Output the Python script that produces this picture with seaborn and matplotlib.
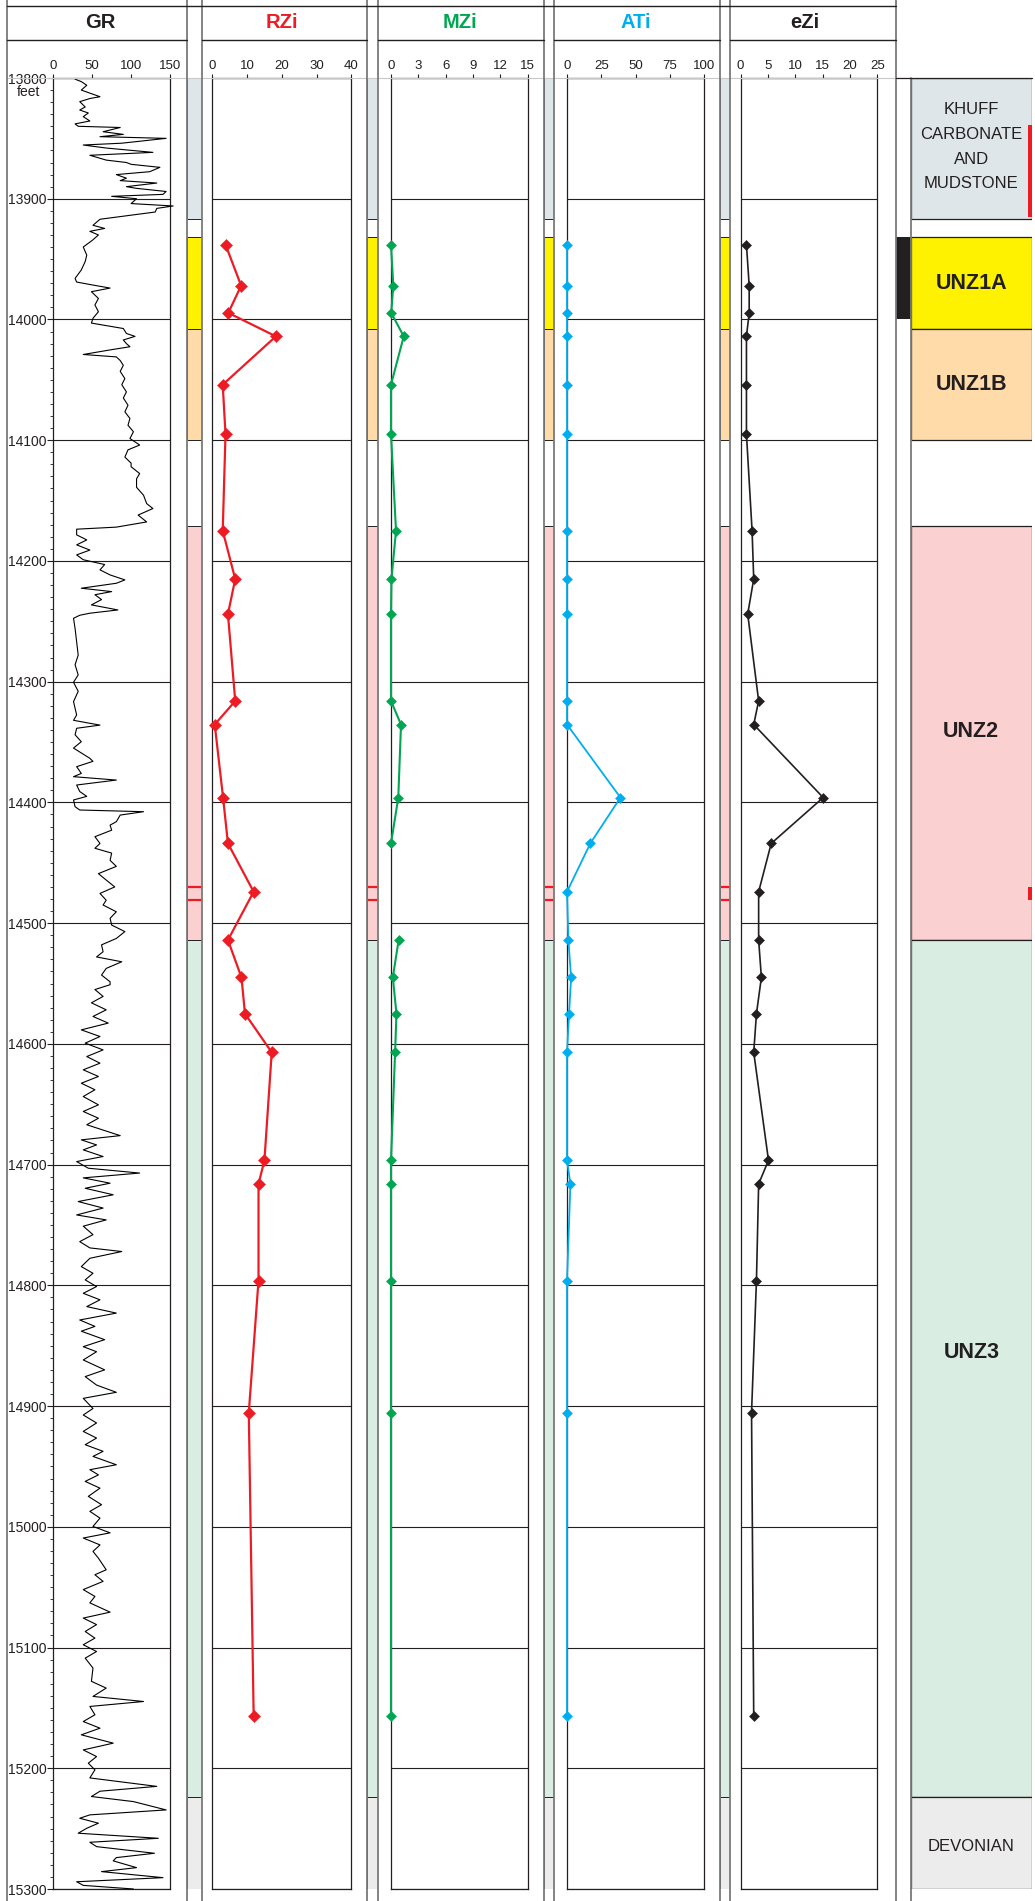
import numpy as np
import pandas as pd
import matplotlib
matplotlib.use("Agg")
import matplotlib.pyplot as plt
from matplotlib.lines import Line2D
from matplotlib.patches import Rectangle
import seaborn as sns

# ---------------------------------------------------------------- data
# Gamma-ray log (API) against depth (feet)
gr_depth = [
    13801, 13803, 13806, 13810, 13815.5, 13817, 13819.6, 13824, 13826.5, 13829,
    13832, 13835.6, 13838, 13840, 13841, 13844.5, 13846.7, 13848.6, 13850, 13854,
    13855.5, 13858, 13861.6, 13864, 13868, 13870, 13871.5, 13874, 13877.6, 13880,
    13883, 13885, 13887, 13890, 13891.4, 13894, 13896.4, 13898, 13900, 13904,
    13906, 13908, 13911, 13917, 13922, 13924.6, 13927, 13930, 13934, 13940,
    13946.7, 13952, 13959, 13966, 13969, 13971.5, 13974, 13977, 13982.6, 13988,
    13993.6, 13999, 14003, 14007.5, 14011.6, 14014, 14017, 14020, 14022.6, 14025,
    14029, 14031, 14034, 14038, 14043, 14049, 14054, 14060, 14065, 14071,
    14076.5, 14082, 14087.6, 14093, 14098.6, 14104, 14108, 14114, 14119, 14122,
    14127.6, 14132, 14139, 14145.6, 14152.5, 14156.6, 14162, 14167.7, 14172, 14173.7,
    14178.4, 14182.6, 14186.7, 14191, 14195, 14199, 14203, 14207.4, 14211.6, 14215.7,
    14218.5, 14222.6, 14225.4, 14228, 14232, 14236.4, 14240.6, 14243.3, 14245, 14247.5,
    14256, 14267, 14278, 14286, 14294.4, 14300.5, 14308, 14316.5, 14327.6, 14332,
    14336, 14338.6, 14344, 14349.7, 14355, 14363.5, 14366, 14370.4, 14376, 14378.7,
    14381.5, 14385.6, 14391, 14395, 14398, 14403.6, 14406.3, 14407.7, 14410.5, 14416,
    14418.8, 14423, 14428.4, 14434, 14438, 14442, 14448, 14453, 14459, 14464.3,
    14470, 14475.4, 14481, 14485, 14490.6, 14496, 14501.6, 14507, 14512.7, 14518,
    14523.7, 14528, 14532, 14537.5, 14543, 14548.6, 14551, 14555, 14560.7, 14566,
    14571.8, 14577.3, 14582.8, 14588.4, 14593.9, 14599.4, 14605, 14610.5, 14616, 14621.5,
    14627, 14632.6, 14638, 14643.6, 14650.5, 14656, 14661.6, 14667, 14676, 14679.5,
    14683.7, 14687.8, 14693.3, 14697.5, 14703, 14707, 14711, 14715.4, 14719.6, 14725,
    14730.6, 14736, 14741.7, 14745.8, 14751, 14758, 14763.8, 14769, 14772, 14777.6,
    14784.5, 14790, 14795.5, 14801, 14806.6, 14812, 14817.6, 14823, 14828.7, 14834,
    14838, 14845, 14850.8, 14855, 14861.8, 14870, 14875.6, 14882.6, 14888.6, 14893.6,
    14902, 14907.4, 14914, 14921, 14926.5, 14932, 14937.5, 14941.7, 14948.6, 14952.7,
    14957, 14962.4, 14968, 14974.8, 14981.7, 14987.2, 14992.8, 14999.7, 15005, 15009.3,
    15015, 15020.4, 15026, 15035.6, 15039.7, 15045.2, 15052, 15057.7, 15063, 15070.7,
    15075.6, 15081, 15086.7, 15092.2, 15097.7, 15103.3, 15108.8, 15117, 15128, 15133.6,
    15140.5, 15144.7, 15148.8, 15155.7, 15161.3, 15166.8, 15172.3, 15179.2, 15184.8, 15190.3,
    15195.8, 15201.3, 15208, 15215, 15219, 15223.4, 15227.6, 15234.5, 15238.6, 15241.4,
    15245.5, 15249.7, 15253.8, 15258, 15261.3, 15264.9, 15270.4, 15274, 15276.7, 15282.3,
    15285.6, 15290.6, 15294, 15297, 15300,
]
gr_value = [
    28, 36, 43, 36, 60, 47, 34, 41, 34, 45,
    38.5, 47, 28, 32, 86, 64, 90, 60, 145, 88,
    38.5, 68, 128, 47, 68, 94, 100, 137, 124, 81,
    94, 86, 133, 94, 107, 145, 141, 75, 107, 100,
    154, 133, 131, 60, 51, 66, 47, 58, 51, 38.5,
    43, 41, 36, 28, 30, 51, 73, 49, 58, 53.5,
    58, 51, 49, 90, 94, 105, 90, 94, 98.5, 75,
    38.5, 81, 86, 90, 86, 92, 88, 94, 90, 96,
    92, 98.5, 96, 103, 98.5, 111, 96, 92, 100, 100,
    111, 107, 107, 116, 120, 128, 109, 120, 81, 30,
    30, 43, 30, 47, 30, 38.5, 66, 60, 73, 92,
    81, 36, 75, 53.5, 62, 49, 83, 47, 34, 26,
    28, 30, 32, 28, 32, 26, 32, 26, 30, 26,
    60, 30, 28, 36, 26, 47, 51, 30, 36, 26,
    81, 30, 34, 43, 26, 28, 34, 116, 86, 81,
    73, 75, 53.5, 60, 53.5, 75, 73, 81, 58, 68,
    79, 60, 68, 64, 81, 73, 75, 92, 81, 62,
    64, 55.6, 88, 68, 62, 73, 73, 53.5, 64, 49,
    68, 51, 70.6, 36, 60, 41, 64, 43, 60, 38.5,
    58, 36, 53.5, 38.5, 58, 38.5, 58, 43, 86, 36,
    55.6, 38.5, 64, 30, 45, 111, 38.5, 73, 41, 77,
    32, 64, 30, 68, 38.5, 51, 34, 47, 88, 47,
    36, 51, 41, 55.6, 38.5, 60, 43, 81, 34, 53.5,
    36, 66, 38.5, 55.6, 38.5, 66, 41, 55.6, 81, 38.5,
    51, 38.5, 55.6, 38.5, 55.6, 41, 64, 51, 81, 47,
    58, 41, 60, 45, 62, 47, 60, 51, 73, 38.5,
    60, 51, 58, 68, 53.5, 64, 38.5, 53.5, 47, 73,
    38.5, 55.6, 41, 53.5, 38.5, 55.6, 41, 51, 49, 68,
    51, 116, 47, 53.5, 38.5, 60, 36, 77, 38.5, 55.6,
    45, 53.5, 47, 133, 60, 49, 103, 145, 47, 34,
    58, 43, 32, 135, 47, 55.6, 130, 81, 77, 107,
    62, 141, 30, 38.5, 103,
]

# Core-sample indices against depth (feet)
sample_depth = [13938, 13972, 13994.5, 14014, 14054, 14095, 14175, 14215, 14244, 14316,
                14335.5, 14396, 14434, 14474, 14514, 14545, 14575, 14607, 14696.5, 14716,
                14796, 14905.5, 15156.5]
rzi = [3.8, 8.3, 4.6, 18.3, 3.0, 3.8, 3.0, 6.6, 4.5, 6.6,
       0.7, 3.1, 4.5, 11.9, 4.5, 8.4, 9.4, 17.1, 15.0, 13.3,
       13.3, 10.5, 11.9]
mzi = [0.0, 0.25, 0.03, 1.4, 0.0, 0.0, 0.55, 0.05, 0.0, 0.0,
       1.1, 0.8, 0.0, np.nan, 0.84, 0.2, 0.6, 0.45, 0.0, 0.0,
       0.0, 0.0, 0.0]
ati = [0, 0, 0, 0, 0, 0, 0, 0, 0, 0,
       0, 39, 17, 0, 1, 3, 1.5, 0, 0, 2.5,
       0, 0, 0]
ezi = [1.07, 1.57, 1.57, 1.07, 1.07, 1.07, 2.1, 2.4, 1.3, 3.3,
       2.4, 15.1, 5.6, 3.3, 3.3, 3.8, 2.9, 2.4, 5.1, 3.3,
       2.9, 2.0, 2.4]

# Stratigraphic units
zone_top = [13800, 13932, 14008, 14171, 14514, 15224]
zone_base = [13917, 14008, 14100, 14514, 15224, 15300]
zone_name = ["KHUFF\nCARBONATE\nAND\nMUDSTONE", "UNZ1A", "UNZ1B", "UNZ2", "UNZ3", "DEVONIAN"]
zone_label_depth = [13857, 13970, 14054, 14341, 14856, 15265]
zone_bold = [False, True, True, True, True, False]
zone_color = ["#dfe6e9", "#fff200", "#fedba8", "#fbd0d1", "#d9ede2", "#ececec"]

# Highlighted intervals
core_interval = (13932, 14000)
red_intervals = [(13839, 13915), (14470, 14481)]
red_lines = [14470, 14481]

# Track titles, scales and colours
track_names = ["GR", "RZi", "MZi", "ATi", "eZi"]
track_colors = ["#231f20", "#ed1c24", "#00a651", "#00aeef", "#231f20"]
track_limits = [(0, 150), (0, 40), (0, 15), (0, 100), (0, 25)]
track_ticks = [[0, 50, 100, 150], [0, 10, 20, 30, 40], [0, 3, 6, 9, 12, 15],
               [0, 25, 50, 75, 100], [0, 5, 10, 15, 20, 25]]
depth_ticks = list(range(13800, 15301, 100))

# ---------------------------------------------------------------- figure
sns.set_style("white")
plt.rcParams["font.family"] = ["Liberation Sans", "DejaVu Sans"]

W, H, DPI = 1035, 1901, 100
fig = plt.figure(figsize=(W / DPI, H / DPI), dpi=DPI)

TOP, BOT = 78, 1889          # pixel rows of the top and base depth
DMIN, DMAX = 13800, 15300
INK = "#231f20"
FRAME = "#7a7a7a"


def fx(x):
    return x / W


def fy(y):
    return 1 - y / H


def depth_axes(x0, x1):
    ax = fig.add_axes([fx(x0), fy(BOT), (x1 - x0) / W, (BOT - TOP) / H])
    ax.set_ylim(DMAX, DMIN)
    ax.set_facecolor("none")
    return ax


def fig_line(xs, ys, **kw):
    fig.add_artist(Line2D([fx(x) for x in xs], [fy(y) for y in ys],
                          transform=fig.transFigure, **kw))


# pixel geometry of tracks
box_x = [(7, 187), (202, 367), (378, 543.7), (553.6, 719.5), (730, 896)]
plot_x = [(53.3, 170), (212.3, 351.3), (391, 527.5), (567, 704), (740.6, 877.3)]
strip_x = [(187, 202), (367, 378), (543.7, 553.6), (719.5, 730)]
title_x = [100, 282, 460, 636, 805]
litho_x = (910.6, 1032)
core_x = (896, 910.6)

# coloured unit strips between tracks
for (s0, s1) in strip_x:
    sax = depth_axes(s0, s1)
    sax.set_xlim(0, 1)
    sax.axis("off")
    for t, b, c in zip(zone_top, zone_base, zone_color):
        sax.axhspan(b, t, facecolor=c, edgecolor=INK, lw=0.7)
    for d in red_lines:
        sax.axhline(d, color="#ed1c24", lw=1.6)

# curve tracks
sample_df = pd.DataFrame({"depth": sample_depth, "RZi": rzi, "MZi": mzi,
                          "ATi": ati, "eZi": ezi})
gr_df = pd.DataFrame({"depth": gr_depth, "GR": gr_value})

line_width = {"RZi": 1.6, "MZi": 1.5, "ATi": 1.3, "eZi": 1.2}
marker_size = {"RZi": 6.0, "MZi": 5.5, "ATi": 5.0, "eZi": 5.5}

for i, name in enumerate(track_names):
    ax = depth_axes(*plot_x[i])
    if name == "GR":
        sns.lineplot(data=gr_df, x="GR", y="depth", orient="y", sort=False,
                     estimator=None, color="black", lw=0.8, ax=ax, clip_on=False,
                     zorder=4)
    else:
        df = sample_df[["depth", name]].copy()
        df["seg"] = df[name].isna().cumsum()
        df = df.dropna()
        sns.lineplot(data=df, x=name, y="depth", units="seg", estimator=None,
                     orient="y", sort=False, color=track_colors[i],
                     lw=line_width[name], marker="D", ms=marker_size[name],
                     mec=track_colors[i], mfc=track_colors[i], mew=0.4,
                     ax=ax, legend=False, clip_on=False, zorder=4)
    ax.set_xlim(*track_limits[i])
    ax.set_ylim(DMAX, DMIN)
    ax.set_xlabel("")
    ax.set_ylabel("")
    ax.set_xticks(track_ticks[i])
    ax.set_xticklabels([str(t) for t in track_ticks[i]])
    ax.tick_params(axis="x", top=True, bottom=False, labeltop=True, labelbottom=False,
                   direction="out", length=2.6, width=0.8, pad=2.0, labelsize=9.5,
                   colors=INK)
    ax.set_yticks(depth_ticks)
    ax.yaxis.grid(True, color=INK, lw=0.8)
    ax.xaxis.grid(False)
    for sp in ax.spines.values():
        sp.set_color(INK)
        sp.set_linewidth(0.9)
        sp.set_visible(True)
    if name == "GR":
        ax.set_yticklabels([str(d) for d in depth_ticks])
        ax.set_yticks(np.arange(DMIN, DMAX + 1, 10), minor=True)
        ax.tick_params(axis="y", which="major", left=True, direction="out",
                       length=4, width=0.8, pad=1, labelsize=10, colors=INK)
        ax.tick_params(axis="y", which="minor", left=True, direction="out",
                       length=2.5, width=0.6, colors=INK)
    else:
        ax.tick_params(axis="y", left=False, labelleft=False)

fig.text(fx(28), fy(92), "feet", fontsize=10, color=INK, ha="center", va="center")

# lithology column
lax = depth_axes(*litho_x)
lax.set_xlim(0, 1)
lax.axis("off")
for t, b, c, n, ld, bold in zip(zone_top, zone_base, zone_color, zone_name,
                               zone_label_depth, zone_bold):
    lax.axhspan(b, t, facecolor=c, edgecolor=INK, lw=0.9)
    lax.text(0.5, ld, n, ha="center", va="center", color=INK,
             fontsize=15.5 if bold else 12, fontweight="bold" if bold else "normal",
             linespacing=1.8)
for (t, b) in red_intervals:
    lax.add_patch(Rectangle((0.965, t), 0.035, b - t, facecolor="#ed1c24",
                            edgecolor="none", clip_on=False, zorder=5))

cax = depth_axes(*core_x)
cax.set_xlim(0, 1)
cax.axis("off")
cax.axhspan(core_interval[1], core_interval[0], facecolor=INK, edgecolor="none")

# frame: track borders, header boxes and top/base rules
fig_line([7, 896], [TOP, TOP], color="#c8c8c8", lw=0.8)
for x in [7, 187, 202, 367, 378, 543.7, 553.6, 719.5, 730, 896]:
    fig_line([x, x], [0, H], color=FRAME, lw=1.3)
fig_line([litho_x[0], litho_x[0]], [TOP, H], color=FRAME, lw=1.3)
fig_line([core_x[0], litho_x[1]], [TOP, TOP], color=INK, lw=0.9)
fig_line([7, 896], [6, 6], color=INK, lw=1.0)
for (b0, b1) in box_x:
    fig_line([b0, b1], [40, 40], color=INK, lw=1.0)

for i, name in enumerate(track_names):
    fig.text(fx(title_x[i]), fy(23), name, ha="center", va="center",
             fontsize=14.5, fontweight="bold", color=track_colors[i])

fig.savefig("out.png", dpi=DPI)
